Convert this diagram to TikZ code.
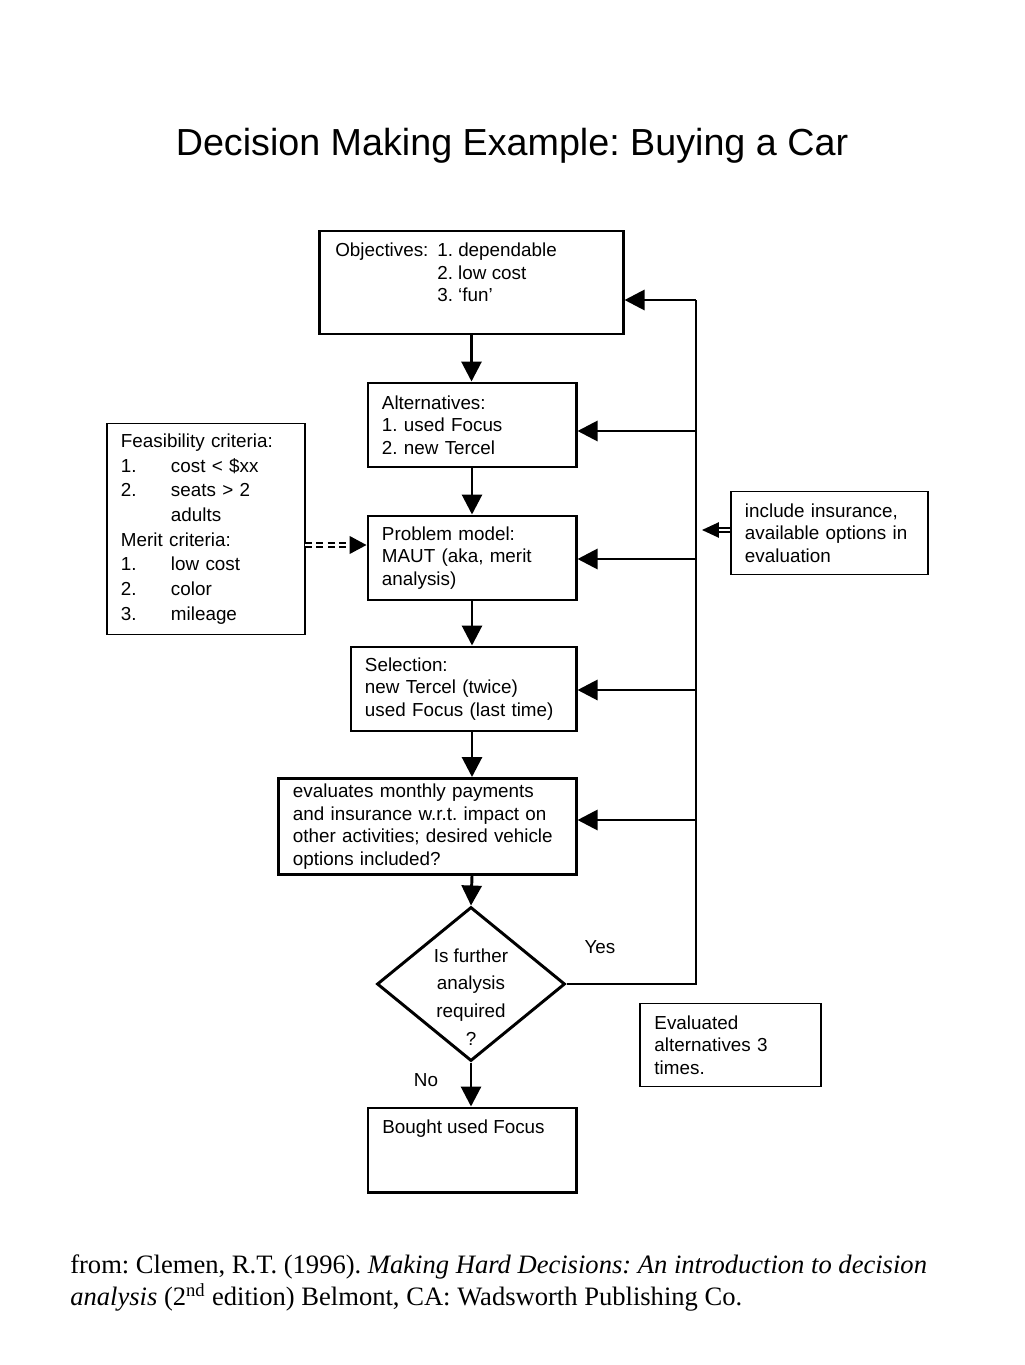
\documentclass[tikz,border=0pt]{standalone}
\usepackage{fontspec}
\setmainfont{Liberation Serif}
\setsansfont{Liberation Sans}
\usetikzlibrary{shapes.geometric,arrows.meta,positioning,calc}
\frenchspacing

\begin{document}
\begin{tikzpicture}[
        x=0.025cm, y=-0.025cm,
        every node/.style={font=\sffamily\fontsize{13.4}{16}\selectfont},
        main_box/.style={
            rectangle,
            draw=black,
            line width=2.1pt,
            inner xsep=0.35cm,
            inner ysep=0pt,
            align=left
        },
        side_box/.style={
            rectangle,
            draw=black,
            line width=1.1pt,
            inner xsep=0.35cm,
            inner ysep=0pt,
            align=left
        },
        box_text/.style={
            anchor=north west,
            inner sep=0pt,
            align=left
        },
        choice_node/.style={
            diamond,
            draw=black,
            line width=2.1pt,
            minimum width=4.7cm,
            minimum height=3.85cm,
            inner sep=0pt
        },
        plain_label/.style={
            inner sep=0pt
        },
        flow_edge/.style={
            draw=black,
            line width=2.1pt,
            -{Triangle[length=0.5cm, width=0.5cm]}
        },
        loop_edge/.style={
            draw=black,
            line width=2.1pt
        },
        double_edge/.style={
            draw=black,
            double,
            double distance=1.7pt,
            line width=1pt,
            -{Triangle[length=0.42cm, width=0.38cm]}
        },
        dashed_edge/.style={
            draw=black,
            double,
            double distance=1.8pt,
            line width=1.2pt,
            dash pattern=on 5pt off 3pt,
            -{Triangle[length=0.42cm, width=0.44cm]}
        }
    ]
        \useasboundingbox (0,0) rectangle (1024,1365);

        % Title
        \node[font=\sffamily\fontsize{26.8}{32}\selectfont] (title) at (512,146)
            {Decision Making Example: Buying a Car};

        % Main column
        \node[main_box, minimum width=7.575cm, minimum height=2.575cm] (obj) at (471.5,282.5) {};
        \node[box_text] (obj_text) at (335,243)
            {\makebox[2.55cm][l]{Objectives:}1. dependable\\
             \hspace*{2.55cm}2. low cost\\
             \hspace*{2.55cm}3. `fun'};
        \node[main_box, minimum width=5.2cm, minimum height=2.1cm, text width=4.5cm] (alt) at (472,425)
            {Alternatives:\\1. used Focus\\2. new Tercel};
        \node[main_box, minimum width=5.2cm, minimum height=2.1cm, text width=4.5cm] (pm) at (472,558)
            {Problem model:\\MAUT (aka, merit\\analysis)};
        \node[main_box, minimum width=5.625cm, minimum height=2.1cm, text width=4.925cm] (sel) at (463.5,689)
            {Selection:\\new Tercel (twice)\\used Focus (last time)};
        \node[main_box, minimum width=7.425cm, minimum height=2.4cm, text width=6.725cm] (ev) at (427.5,826.5)
            {evaluates monthly payments\\and insurance w.r.t. impact on\\other activities; desired vehicle\\options included?};
        \node[choice_node] (dec) at (471,984) {};
        \node[plain_label, align=center, font=\sffamily\fontsize{13.4}{19.8}\selectfont] (dec_text) at (471,997)
            {Is further\\analysis\\required\\?};
        \node[main_box, minimum width=5.2cm, minimum height=2.1cm] (bought) at (472,1150) {};
        \node[box_text] (bought_text) at (382,1120) {Bought used Focus};

        % Side notes
        \node[side_box, minimum width=4.95cm, minimum height=5.275cm, text width=4.25cm,
              font=\sffamily\fontsize{13.4}{17.6}\selectfont] (feas) at (206,529)
            {Feasibility criteria:\\
             \makebox[1.25cm][l]{1.}cost < \$xx\\
             \makebox[1.25cm][l]{2.}seats > 2\\
             \hspace*{1.25cm}adults\\
             Merit criteria:\\
             \makebox[1.25cm][l]{1.}low cost\\
             \makebox[1.25cm][l]{2.}color\\
             \makebox[1.25cm][l]{3.}mileage};
        \node[side_box, minimum width=4.925cm, minimum height=2.075cm, text width=4.225cm] (incl) at (829.5,533)
            {include insurance,\\available options in\\evaluation};
        \node[side_box, minimum width=4.525cm, minimum height=2.075cm, text width=3.8cm] (evald) at (730.5,1045)
            {Evaluated\\alternatives 3\\times.};

        % Labels
        \node[plain_label] (yes) at (600,947) {Yes};
        \node[plain_label] (no) at (426,1080) {No};

        % Points on the feedback line
        \coordinate (yes_corner) at (696,984);
        \coordinate (loop_top) at (696,300);
        \coordinate (loop_alt) at (696,431);
        \coordinate (loop_pm) at (696,559);
        \coordinate (loop_sel) at (696,690);
        \coordinate (loop_ev) at (696,820);
        \coordinate (incl_tip) at (702,530);
        \coordinate (feas_out) at (305,545);

        % Main flow
        \draw[flow_edge] (obj.south) -- (obj.south |- alt.north);
        \draw[flow_edge] (alt.south) -- (alt.south |- pm.north);
        \draw[flow_edge] (pm.south) -- (pm.south |- sel.north);
        \draw[flow_edge] (sel.south -| pm.south) -- (pm.south |- ev.north);
        \draw[flow_edge] (ev.south -| pm.south) -- (dec.north);
        \draw[flow_edge] (dec.south) -- (dec.south |- bought.north);

        % Feedback loop
        \draw[loop_edge] (dec.east) -- (yes_corner) -- (loop_top);
        \draw[flow_edge] (loop_top) -- (obj.east |- loop_top);
        \draw[flow_edge] (loop_alt) -- (alt.east |- loop_alt);
        \draw[flow_edge] (loop_pm) -- (pm.east |- loop_pm);
        \draw[flow_edge] (loop_sel) -- (sel.east |- loop_sel);
        \draw[flow_edge] (loop_ev) -- (ev.east |- loop_ev);

        % Side links
        \draw[double_edge] (incl.west |- incl_tip) -- (incl_tip);
        \draw[dashed_edge] (feas_out) -- (feas_out -| pm.west);

        % Source
        \node[anchor=west, align=left, inner sep=0pt,
              font=\rmfamily\fontsize{18.9}{22.7}\selectfont] (source) at (70,1283)
            {from: Clemen, R.T. (1996). \textit{Making Hard Decisions: An introduction to decision}\\
             \textit{analysis} (2\textsuperscript{nd} edition) Belmont, CA: Wadsworth Publishing Co.};
\end{tikzpicture}
\end{document}
